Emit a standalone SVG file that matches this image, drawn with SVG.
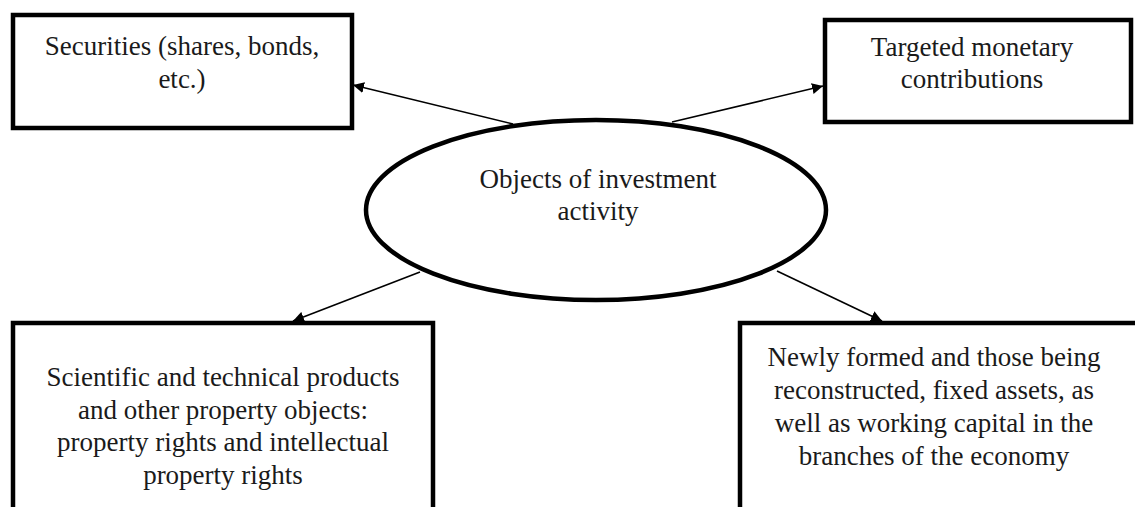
<svg xmlns="http://www.w3.org/2000/svg" width="1135" height="507" viewBox="0 0 1135 507">
<style>
.box{fill:#fff;stroke:#000;stroke-width:4.5}
.ell{fill:#fff;stroke:#000;stroke-width:4.5}
.t{font-family:"Liberation Serif","Times New Roman",serif;font-size:27px;fill:#1a1a1a;text-anchor:middle}
.c{stroke:#000;stroke-width:1.6;fill:none;marker-end:url(#ah)}
</style>
<defs>
<marker id="ah" viewBox="0 0 10 10" refX="10" refY="5" markerWidth="11" markerHeight="11" markerUnits="userSpaceOnUse" orient="auto">
<path d="M0,0 L10,5 L0,10 z" fill="#000"/>
</marker>
</defs>
<rect width="1135" height="507" fill="#fff"/>
<g id="connectors">
<line class="c" x1="513" y1="124" x2="353" y2="85"/>
<line class="c" x1="672" y1="122" x2="823" y2="86"/>
<line class="c" x1="420" y1="272" x2="293" y2="321"/>
<line class="c" x1="777" y1="271" x2="882" y2="321"/>
</g>
<g id="securities">
<rect class="box" x="13" y="15" width="339" height="113"/>
<text class="t" x="182" y="55">Securities (shares, bonds,</text>
<text class="t" x="182" y="88">etc.)</text>
</g>
<g id="targeted">
<rect class="box" x="825" y="20" width="306" height="102"/>
<text class="t" x="972" y="56">Targeted monetary</text>
<text class="t" x="972" y="88">contributions</text>
</g>
<g id="center">
<ellipse class="ell" cx="596" cy="210" rx="230" ry="90"/>
<text class="t" x="598" y="188">Objects of investment</text>
<text class="t" x="598" y="220">activity</text>
</g>
<g id="scientific">
<rect class="box" x="13" y="323" width="420" height="200"/>
<text class="t" x="223" y="386">Scientific and technical products</text>
<text class="t" x="223" y="419">and other property objects:</text>
<text class="t" x="223" y="451">property rights and intellectual</text>
<text class="t" x="223" y="484">property rights</text>
</g>
<g id="newly">
<rect class="box" x="740" y="323" width="420" height="200"/>
<text class="t" x="934" y="366">Newly formed and those being</text>
<text class="t" x="934" y="399">reconstructed, fixed assets, as</text>
<text class="t" x="934" y="432">well as working capital in the</text>
<text class="t" x="934" y="465">branches of the economy</text>
</g>
</svg>
